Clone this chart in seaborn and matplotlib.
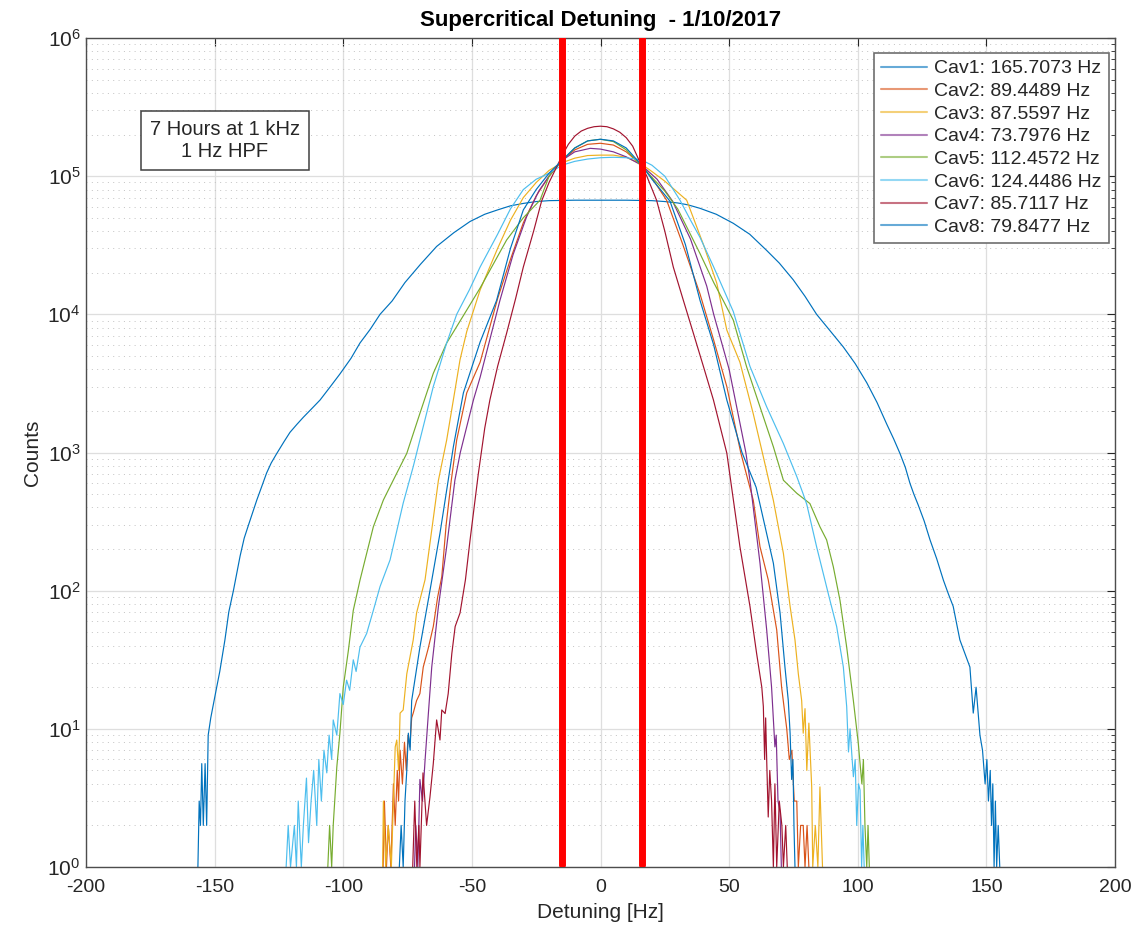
import matplotlib
matplotlib.use("Agg")
import matplotlib.pyplot as plt
import seaborn as sns
from matplotlib.ticker import LogLocator, FixedLocator, NullLocator, NullFormatter, LogFormatterSciNotation

# ---------------- data ----------------
labels = ["Cav1: 165.7073 Hz", "Cav2: 89.4489 Hz", "Cav3: 87.5597 Hz", "Cav4: 73.7976 Hz",
          "Cav5: 112.4572 Hz", "Cav6: 124.4486 Hz", "Cav7: 85.7117 Hz", "Cav8: 79.8477 Hz"]
colors = ["#0072BD", "#D95319", "#EDB120", "#7E2F8E", "#77AC30", "#4DBEEE", "#A2142F", "#0072BD"]

cav1_x = [-156.5, -156, -155.5, -155, -154.4, -153.7, -153.1, -152.5, -151.5, -150.5,
          -149.2, -148, -146, -144.5, -142.7, -140.1, -138.5, -136.8, -133.6, -131.5,
          -129.8, -128, -125.9, -123, -120.7, -118, -115.5, -112, -109, -105,
          -101.3, -97, -93.5, -89.5, -85.7, -81, -76, -70, -63.7, -57,
          -50.7, -45, -40, -35, -30, -25, -20, -10, 0, 10,
          20, 25, 30, 34, 38.7, 45, 51.6, 58, 64.6, 69.5,
          74.9, 79.5, 84, 89, 94.4, 99, 103.5, 107.5, 111.3, 114,
          116.4, 118.5, 120.3, 121.8, 123.5, 125.8, 128.1, 130.7, 133.3, 135.2,
          137.1, 139.7, 143.6, 144.9, 146, 147.5, 148.5, 149.5, 150.2, 150.8,
          151.5, 152, 152.5, 153, 153.5, 154, 154.6, 155.2]
cav1_y = [1, 3, 2, 5.6, 2, 5.6, 2, 9, 12, 15,
          20, 26, 44, 70, 100, 178, 240, 300, 453, 580,
          710, 840, 980, 1200, 1400, 1600, 1800, 2100, 2400, 3000,
          3700, 4800, 6200, 7800, 10000, 12500, 17000, 23000, 31000, 39000,
          47000, 53000, 57000, 61000, 63500, 65500, 66500, 67000, 67000, 67000,
          66500, 65500, 64000, 62000, 58500, 53000, 45600, 38000, 29000, 23500,
          17800, 13500, 10000, 7700, 5800, 4400, 3200, 2300, 1600, 1250,
          986, 780, 598, 500, 417, 320, 233, 170, 119, 95,
          77, 44, 28, 13, 20, 9, 7, 4, 6, 3,
          5, 2, 4, 1, 3, 1, 2, 1]

cav2_x = [-84.5, -84, -83.2, -82.5, -81.5, -80.5, -79.8, -79, -78.5, -77.9,
          -77, -76.2, -75.5, -74.8, -74.1, -73.4, -72.8, -71.5, -70.2, -68.9,
          -67, -65, -63.3, -61.7, -60, -58, -55.9, -52, -46.8, -40,
          -35, -30, -25, -20, -15, -10, -5, 0, 5, 10,
          16, 20, 25.7, 32, 38.7, 44, 49.1, 54.5, 59.4, 62,
          65.2, 68.5, 70.4, 72.4, 73.4, 74.4, 75.3, 76.3, 76.9, 77.8,
          78.8, 79.5, 80.3, 81]
cav2_y = [1, 3, 1, 2, 1, 4, 2, 5, 3, 7,
          4, 8, 5, 9, 7.4, 12, 13, 16, 18, 28,
          38, 55, 90, 126, 300, 630, 1230, 2700, 4500, 13000,
          25000, 46000, 72000, 100000, 130000, 155000, 170000, 173000, 168000, 150000,
          120000, 97000, 67000, 32000, 14000, 6500, 3000, 1000, 450, 208,
          120, 52, 20, 10, 6, 7, 3, 3, 1, 2,
          2, 1, 2, 1]

cav3_x = [-84.7, -84.4, -83.5, -82.5, -81.3, -80.5, -79.8, -79.2, -78.5,
          -77.9, -76.7, -75.3, -72.8, -71.5, -68.2, -65.6, -63, -59.8, -57.2,
          -54.6, -52, -46.8, -40, -35, -30, -25, -20, -15, -10, -5,
          0, 5, 10, 16, 20, 25, 33.5, 40, 45.2, 49.1, 54.2,
          59.4, 63.3, 67.2, 71.1, 73.7, 75.6, 76.9, 78.2, 78.8, 79.5,
          80.2, 81, 82.1, 82.5, 83.5, 84.5, 85.3, 86.3]
cav3_y = [1, 3, 1, 2, 1, 3, 7.4, 8.3, 5,
          13, 13.7, 25, 44, 69, 120, 275, 630, 1230, 2400,
          4700, 7500, 15000, 30000, 48000, 70000, 90000, 110000, 125000, 135000, 141000,
          142000, 142000, 137000, 122000, 108000, 92000, 67000, 32000, 16800, 7700, 4500,
          1900, 930, 450, 186, 77, 44, 25, 16, 9.3, 14,
          5, 11, 3.8, 1, 2, 1, 3.8, 1]

cav4_x = [-72.3, -71.8, -71, -70.2, -69.2, -68.2, -66.9, -65.6, -63, -59.8,
          -56.6, -54.5, -49.4, -46.8, -39.1, -34, -28.7, -24, -20, -15, -10, -4,
          0, 5, 10, 16, 22, 28, 35, 41.3, 44, 50, 56.5,
          58.1, 62, 64.6, 66.5, 67.8, 68.3, 69, 69.8, 70.3]
cav4_y = [1, 2, 1, 4.3, 3, 5.9, 13, 28, 77, 208,
          630, 1000, 2400, 3500, 12600, 27000, 51000, 78000, 100000, 130000, 150000, 159000,
          157000, 150000, 138000, 120000, 95000, 66000, 35000, 16000, 10000, 4000, 1000,
          630, 158, 52, 20, 7.4, 9, 3, 2.5, 1]

cav5_x = [-106, -105.3, -104.5, -103.9, -102.5, -101.3, -100, -98, -96.1, -93.5,
          -90.9, -88.3, -84.4, -83.1, -79.2, -75.3, -70.2, -65, -59.8, -53,
          -46.8, -36.5, -30, -23.5, -20, -15, -10, -5, 0, 5,
          10, 16, 20, 25, 30, 38.7, 44, 47.7, 51.6, 56.8, 62,
          67.2, 71.1, 76.3, 81.4, 85.3, 87.9, 90.5, 93.1, 95.7, 98.3,
          100.2, 101.6, 102.2, 102.8, 103.5, 104, 104.5]
cav5_y = [1, 2, 1, 2, 5.3, 9.3, 20, 37, 72, 119,
          186, 290, 453, 507, 708, 986, 1920, 3740, 6200, 10000,
          15500, 34500, 50000, 67000, 100000, 130000, 160000, 180000, 185000, 178000,
          155000, 118000, 98000, 78000, 58000, 27500, 17000, 12600, 9100, 4170, 2140,
          1100, 630, 507, 427, 290, 233, 149, 85, 39, 16,
          7.9, 4, 6, 2, 1, 2, 1]

cav6_x = [-122.2, -121.4, -120.5, -119, -118.2, -117.5, -116.3, -115.5, -114.3, -113.5,
          -112.5, -111.5, -110.3, -109.5, -108.5, -107.5, -106.4, -105.5, -104.5, -103.9,
          -102.5, -101.3, -100, -98.7, -97.5, -96.1, -95, -93.5, -90.9, -88.3,
          -85.7, -81.8, -76.7, -72.8, -68.9, -65, -59.8, -55.9, -51, -46.8, -40,
          -35, -30, -25, -20, -15, -10, -5, 0, 5, 10, 16, 20, 25,
          30.9, 35, 38.7, 44, 51.6, 58.1, 64.6, 71.1, 76.3, 78.8, 80.2,
          84, 86.6, 89.2, 91.8, 94.4, 95.7, 96.4, 97, 98.3, 99,
          99.6, 100.3, 100.9, 101.5, 102, 102.5]
cav6_y = [1, 2, 1, 2, 1, 3, 1, 2, 4.4, 1.5,
          3, 5, 2, 6, 3, 7, 4.8, 9, 6, 11.6,
          9, 18, 15, 22.5, 19, 31.6, 26, 39, 49, 72,
          107, 167, 430, 790, 1540, 3000, 6200, 10000, 15000, 22000, 38000,
          58000, 80000, 95000, 105000, 120000, 128000, 133000, 136000, 137000, 136000, 131000, 120000, 100000,
          67000, 48000, 36000, 22000, 10500, 4200, 2140, 1160, 670, 500, 420,
          208, 133, 85, 55, 28, 14.5, 6.8, 10, 4.5, 6,
          2, 4, 3.6, 1, 2, 1]

cav7_x = [-73, -72.2, -71.4, -70.6, -70.2, -69, -67.6, -66.3, -65, -63.7,
          -62.4, -61.7, -60.4, -59.2, -57.8, -56.5, -54.6, -52.5, -50.7, -47.5,
          -45, -43, -40, -36.5, -33, -30, -26, -22.9, -20, -17.5, -15, -12.5, -10, -7.5, -5, -2.5, 0,
          2.5, 5, 7.5, 10, 12.5, 15, 18, 21.8, 25, 28.3, 32, 36.1, 40, 43.9, 49.1, 54.2, 58.1,
          60.7, 62.7, 63.3, 63.8, 64.2, 64.6, 65.2, 65.8, 66.5, 67.2,
          67.8, 68.5, 69.5, 70.5, 71.1, 72, 72.6]
cav7_y = [1, 3, 1, 2, 1, 4.8, 2, 3.2, 5.6, 11.6,
          8.3, 13.7, 12.9, 18, 35, 55, 69, 120, 233, 700,
          1500, 2400, 4200, 7300, 13000, 22000, 40000, 66000, 90000, 112000, 140000, 170000, 195000, 212000, 222000, 228000, 230000,
          228000, 220000, 208000, 190000, 165000, 130000, 100000, 67000, 40000, 22000, 13000, 7300, 4200, 2400, 990, 208, 77,
          35, 20, 14.5, 6, 12, 6, 2.3, 5, 3, 1,
          4, 1, 3, 2, 1, 2, 1]

cav8_x = [-78.2, -77.5, -76.7, -76, -75.3, -74.7, -74, -73.4, -70.2, -66.3,
          -62.4, -59.2, -57.2, -53.3, -46.8, -40.4, -35, -30, -25, -20,
          -15, -10, -5, 0, 5, 10, 16, 20, 27, 33,
          38.7, 44, 49.1, 55, 60.5, 67.2, 69.8, 71.7, 73, 73.7,
          74.3, 74.8, 75.2, 75.6]
cav8_y = [1, 2, 1, 3, 5, 9.3, 7, 16, 39, 100,
          260, 630, 1100, 2700, 6300, 12600, 30000, 57000, 80000, 105000,
          130000, 160000, 180000, 185000, 180000, 160000, 120000, 95000, 66000, 32000,
          12600, 6000, 2400, 1000, 560, 158, 69, 28, 16, 9.3,
          4.3, 6, 2, 1]

red_x = [-15, 16]
xticks = [-200, -150, -100, -50, 0, 50, 100, 150, 200]
yticks = [1, 10, 100, 1000, 10000, 100000, 1000000]

series_x = [cav1_x, cav2_x, cav3_x, cav4_x, cav5_x, cav6_x, cav7_x, cav8_x]
series_y = [cav1_y, cav2_y, cav3_y, cav4_y, cav5_y, cav6_y, cav7_y, cav8_y]

# ---------------- style ----------------
sns.set_theme(style="white")
plt.rcParams["font.family"] = ["Liberation Sans", "DejaVu Sans"]
plt.rcParams["mathtext.fontset"] = "custom"
plt.rcParams["mathtext.rm"] = "Liberation Sans"
plt.rcParams["mathtext.it"] = "Liberation Sans:italic"
plt.rcParams["mathtext.bf"] = "Liberation Sans:bold"
plt.rcParams["axes.unicode_minus"] = False

fig = plt.figure(figsize=(11.46, 9.33), dpi=100)
ax = fig.add_axes([86 / 1146, 66 / 933, 1029 / 1146, 829 / 933])

for xs, ys, c, lab in zip(series_x, series_y, colors, labels):
    sns.lineplot(x=xs, y=ys, ax=ax, color=c, linewidth=0.85, label=lab,
                 estimator=None, sort=False)

for xv in red_x:
    ax.axvline(xv, ymin=0.002, ymax=1.0, color="#FF0000", linewidth=5,
               label="_nolegend_", zorder=5)

ax.set_yscale("log")
ax.set_xlim(-200, 200)
ax.set_ylim(1, 1e6)
ax.xaxis.set_major_locator(FixedLocator(xticks))
ax.set_xticklabels([str(t) for t in xticks])
ax.xaxis.set_minor_locator(NullLocator())
ax.yaxis.set_major_locator(FixedLocator(yticks))
ax.yaxis.set_major_formatter(LogFormatterSciNotation())
ax.yaxis.set_minor_locator(LogLocator(base=10, subs=range(2, 10), numticks=100))
ax.yaxis.set_minor_formatter(NullFormatter())

ax.set_axisbelow(True)
ax.grid(True, which="major", color="#dedede", linewidth=0.9, linestyle="-")
ax.yaxis.grid(True, which="minor", color="#c2c2c2", linewidth=0.7, linestyle=(0, (1, 4.5)))

ax.tick_params(axis="both", which="both", direction="in", top=True, right=True,
               colors="#262626")
ax.tick_params(axis="x", which="major", labelsize=14, pad=9)
ax.tick_params(axis="y", which="major", labelsize=15, pad=4)
ax.tick_params(axis="both", which="major", length=6, width=0.8)
ax.tick_params(axis="y", which="minor", length=3, width=0.6)
for s in ax.spines.values():
    s.set_color("#4d4d4d")
    s.set_linewidth(1.0)

ax.set_title("Supercritical Detuning  - 1/10/2017", fontsize=16, fontweight="bold",
             color="#000000", pad=9)
ax.set_xlabel("Detuning [Hz]", fontsize=15, color="#262626", labelpad=5)
ax.set_ylabel("Counts", fontsize=15, color="#262626", labelpad=4)

leg = ax.legend(loc="upper right", bbox_to_anchor=(0.9975, 0.9865), fontsize=14,
                frameon=True, fancybox=False, framealpha=1, edgecolor="#6e6e6e",
                borderpad=0.35, labelspacing=0.26, handlelength=2.4, handletextpad=0.35,
                borderaxespad=0.2)
leg.get_frame().set_linewidth(1.2)
for line in leg.get_lines():
    line.set_linewidth(1.5)
    line.set_alpha(0.6)

ax.text(0.135, 0.876, "7 Hours at 1 kHz\n1 Hz HPF", transform=ax.transAxes,
        ha="center", va="center", fontsize=14.5, color="#262626", linespacing=1.2,
        bbox=dict(boxstyle="square,pad=0.45", fc="white", ec="#404040", lw=1.1))

fig.savefig("out.png", dpi=100)
